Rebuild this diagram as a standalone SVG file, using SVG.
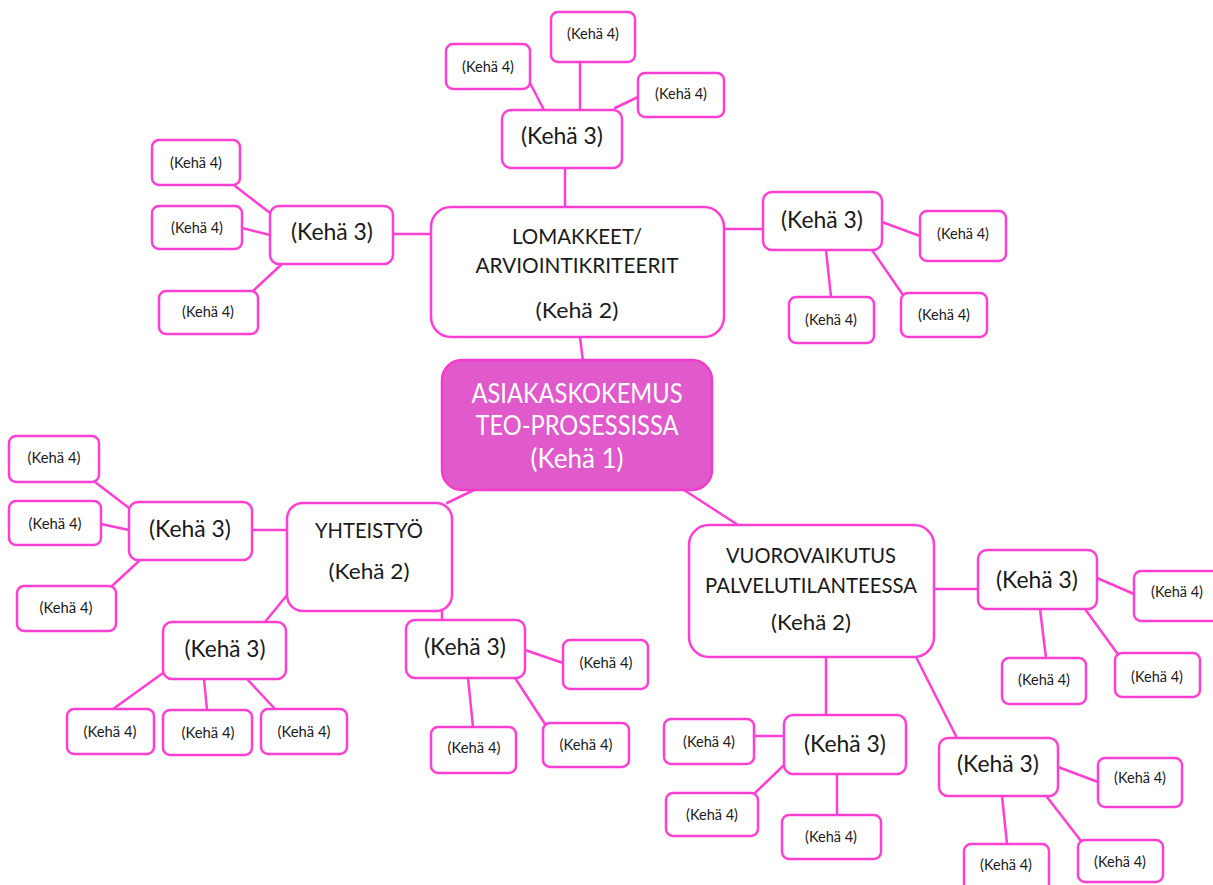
<svg xmlns="http://www.w3.org/2000/svg" width="1213" height="885" viewBox="0 0 1213 885">
  <style>
    .bx { fill: #ffffff; stroke: #ff3fd2; stroke-width: 2.5; }
    .core { fill: #e05acb; stroke: #f23cc9; stroke-width: 2.5; }
    .ln { stroke: #ff3fd2; stroke-width: 2.5; fill: none; stroke-linecap: round; }
    text { font-family: Lato, "Open Sans", "Liberation Sans", sans-serif; fill: #1a1a1a; text-anchor: middle; }
    .t1 { font-size: 27px; fill: #ffffff; }
    .t2 { font-size: 22px; }
    .t3 { font-size: 24px; }
    .t4 { font-size: 15.5px; }
  </style>
  <rect width="1213" height="885" fill="#ffffff"/>

  <!-- connectors -->
  <g id="connectors">
    <!-- core to level 2 -->
    <line class="ln" x1="580" y1="337" x2="584" y2="370"/>
    <line class="ln" x1="474" y1="490" x2="447" y2="503"/>
    <line class="ln" x1="684" y1="490" x2="738" y2="525"/>
    <!-- LOMAKKEET branch -->
    <line class="ln" x1="565" y1="168" x2="565" y2="207"/>
    <line class="ln" x1="530" y1="83" x2="544" y2="110"/>
    <line class="ln" x1="580" y1="62" x2="580" y2="110"/>
    <line class="ln" x1="615" y1="108" x2="638" y2="97"/>
    <line class="ln" x1="393" y1="234" x2="431" y2="234"/>
    <line class="ln" x1="235" y1="186" x2="270" y2="213"/>
    <line class="ln" x1="242" y1="228" x2="270" y2="235"/>
    <line class="ln" x1="282" y1="264" x2="253" y2="291"/>
    <line class="ln" x1="724" y1="229" x2="763" y2="229"/>
    <line class="ln" x1="882" y1="222" x2="920" y2="236"/>
    <line class="ln" x1="826" y1="250" x2="831" y2="297"/>
    <line class="ln" x1="872" y1="250" x2="903" y2="295"/>
    <!-- YHTEISTYÖ branch -->
    <line class="ln" x1="252" y1="530" x2="287" y2="530"/>
    <line class="ln" x1="95" y1="482" x2="129" y2="508"/>
    <line class="ln" x1="101" y1="524" x2="129" y2="530"/>
    <line class="ln" x1="139" y1="561" x2="112" y2="586"/>
    <line class="ln" x1="265" y1="622" x2="287" y2="595"/>
    <line class="ln" x1="163" y1="673" x2="113" y2="709"/>
    <line class="ln" x1="204" y1="679" x2="207" y2="710"/>
    <line class="ln" x1="247" y1="679" x2="275" y2="709"/>
    <line class="ln" x1="442" y1="611" x2="442" y2="620"/>
    <line class="ln" x1="525" y1="650" x2="563" y2="663"/>
    <line class="ln" x1="468" y1="678" x2="473" y2="727"/>
    <line class="ln" x1="515" y1="678" x2="545" y2="724"/>
    <!-- VUOROVAIKUTUS branch -->
    <line class="ln" x1="934" y1="589" x2="978" y2="589"/>
    <line class="ln" x1="1097" y1="578" x2="1134" y2="594"/>
    <line class="ln" x1="1040" y1="609" x2="1046" y2="658"/>
    <line class="ln" x1="1085" y1="609" x2="1117" y2="653"/>
    <line class="ln" x1="826" y1="657" x2="826" y2="715"/>
    <line class="ln" x1="754" y1="736" x2="784" y2="736"/>
    <line class="ln" x1="784" y1="765" x2="755" y2="793"/>
    <line class="ln" x1="837" y1="774" x2="837" y2="815"/>
    <line class="ln" x1="916" y1="657" x2="957" y2="738"/>
    <line class="ln" x1="1058" y1="767" x2="1098" y2="782"/>
    <line class="ln" x1="1002" y1="796" x2="1007" y2="844"/>
    <line class="ln" x1="1047" y1="797" x2="1081" y2="841"/>
  </g>

  <!-- level 1 -->
  <g id="core">
    <rect class="core" x="442" y="360" width="270" height="130" rx="20"/>
    <text class="t1" x="577" y="403" textLength="211" lengthAdjust="spacingAndGlyphs">ASIAKASKOKEMUS</text>
    <text class="t1" x="577" y="435" textLength="203" lengthAdjust="spacingAndGlyphs">TEO-PROSESSISSA</text>
    <text class="t1" x="577" y="468" textLength="93" lengthAdjust="spacingAndGlyphs">(Kehä 1)</text>
  </g>

  <!-- level 2 -->
  <g id="lomakkeet">
    <rect class="bx" x="431" y="207" width="293" height="130" rx="20"/>
    <text class="t2" x="577" y="244" textLength="130" lengthAdjust="spacingAndGlyphs">LOMAKKEET/</text>
    <text class="t2" x="577" y="273" textLength="203" lengthAdjust="spacingAndGlyphs">ARVIOINTIKRITEERIT</text>
    <text class="t2" x="577" y="318" textLength="83" lengthAdjust="spacingAndGlyphs">(Kehä 2)</text>
  </g>
  <g id="yhteistyo">
    <rect class="bx" x="287" y="503" width="165" height="108" rx="16"/>
    <text class="t2" x="369" y="538" textLength="108" lengthAdjust="spacingAndGlyphs">YHTEISTYÖ</text>
    <text class="t2" x="369" y="579" textLength="81" lengthAdjust="spacingAndGlyphs">(Kehä 2)</text>
  </g>
  <g id="vuorovaikutus">
    <rect class="bx" x="689" y="525" width="245" height="132" rx="20"/>
    <text class="t2" x="811" y="563" textLength="170" lengthAdjust="spacingAndGlyphs">VUOROVAIKUTUS</text>
    <text class="t2" x="811" y="593" textLength="212" lengthAdjust="spacingAndGlyphs">PALVELUTILANTEESSA</text>
    <text class="t2" x="811" y="630" textLength="80" lengthAdjust="spacingAndGlyphs">(Kehä 2)</text>
  </g>

  <!-- level 3 -->
  <g id="k3-top"><rect class="bx" x="502" y="110" width="120" height="58" rx="9"/><text class="t3" x="562" y="144" textLength="82" lengthAdjust="spacingAndGlyphs">(Kehä 3)</text></g>
  <g id="k3-left"><rect class="bx" x="270" y="206" width="123" height="58" rx="9"/><text class="t3" x="332" y="240" textLength="82" lengthAdjust="spacingAndGlyphs">(Kehä 3)</text></g>
  <g id="k3-right"><rect class="bx" x="763" y="192" width="119" height="58" rx="9"/><text class="t3" x="822" y="228" textLength="82" lengthAdjust="spacingAndGlyphs">(Kehä 3)</text></g>
  <g id="k3-yh-left"><rect class="bx" x="129" y="502" width="123" height="58" rx="9"/><text class="t3" x="190" y="537" textLength="82" lengthAdjust="spacingAndGlyphs">(Kehä 3)</text></g>
  <g id="k3-yh-low"><rect class="bx" x="163" y="622" width="123" height="57" rx="9"/><text class="t3" x="225" y="657" textLength="81" lengthAdjust="spacingAndGlyphs">(Kehä 3)</text></g>
  <g id="k3-yh-right"><rect class="bx" x="406" y="620" width="119" height="58" rx="9"/><text class="t3" x="465" y="655" textLength="82" lengthAdjust="spacingAndGlyphs">(Kehä 3)</text></g>
  <g id="k3-vu-right"><rect class="bx" x="978" y="550" width="119" height="59" rx="9"/><text class="t3" x="1037" y="588" textLength="82" lengthAdjust="spacingAndGlyphs">(Kehä 3)</text></g>
  <g id="k3-vu-low"><rect class="bx" x="784" y="715" width="122" height="59" rx="9"/><text class="t3" x="845" y="752" textLength="82" lengthAdjust="spacingAndGlyphs">(Kehä 3)</text></g>
  <g id="k3-vu-diag"><rect class="bx" x="939" y="738" width="119" height="58" rx="9"/><text class="t3" x="998" y="772" textLength="82" lengthAdjust="spacingAndGlyphs">(Kehä 3)</text></g>

  <!-- level 4 -->
  <g id="k4-01"><rect class="bx" x="446" y="44" width="84" height="45" rx="7"/><text class="t4" x="488" y="72" textLength="52" lengthAdjust="spacingAndGlyphs">(Kehä 4)</text></g>
  <g id="k4-02"><rect class="bx" x="551" y="12" width="84" height="50" rx="7"/><text class="t4" x="593" y="39" textLength="52" lengthAdjust="spacingAndGlyphs">(Kehä 4)</text></g>
  <g id="k4-03"><rect class="bx" x="638" y="73" width="86" height="44" rx="7"/><text class="t4" x="681" y="99" textLength="52" lengthAdjust="spacingAndGlyphs">(Kehä 4)</text></g>
  <g id="k4-04"><rect class="bx" x="152" y="140" width="88" height="45" rx="7"/><text class="t4" x="196" y="168" textLength="52" lengthAdjust="spacingAndGlyphs">(Kehä 4)</text></g>
  <g id="k4-05"><rect class="bx" x="152" y="206" width="90" height="43" rx="7"/><text class="t4" x="197" y="233" textLength="52" lengthAdjust="spacingAndGlyphs">(Kehä 4)</text></g>
  <g id="k4-06"><rect class="bx" x="159" y="291" width="99" height="43" rx="7"/><text class="t4" x="208" y="317" textLength="52" lengthAdjust="spacingAndGlyphs">(Kehä 4)</text></g>
  <g id="k4-07"><rect class="bx" x="920" y="211" width="86" height="50" rx="7"/><text class="t4" x="963" y="239" textLength="52" lengthAdjust="spacingAndGlyphs">(Kehä 4)</text></g>
  <g id="k4-08"><rect class="bx" x="789" y="297" width="85" height="46" rx="7"/><text class="t4" x="831" y="325" textLength="52" lengthAdjust="spacingAndGlyphs">(Kehä 4)</text></g>
  <g id="k4-09"><rect class="bx" x="901" y="293" width="86" height="44" rx="7"/><text class="t4" x="944" y="320" textLength="52" lengthAdjust="spacingAndGlyphs">(Kehä 4)</text></g>
  <g id="k4-10"><rect class="bx" x="9" y="436" width="90" height="46" rx="7"/><text class="t4" x="54" y="463" textLength="53" lengthAdjust="spacingAndGlyphs">(Kehä 4)</text></g>
  <g id="k4-11"><rect class="bx" x="9" y="501" width="92" height="44" rx="7"/><text class="t4" x="55" y="529" textLength="53" lengthAdjust="spacingAndGlyphs">(Kehä 4)</text></g>
  <g id="k4-12"><rect class="bx" x="17" y="586" width="99" height="45" rx="7"/><text class="t4" x="66" y="613" textLength="53" lengthAdjust="spacingAndGlyphs">(Kehä 4)</text></g>
  <g id="k4-13"><rect class="bx" x="67" y="709" width="87" height="45" rx="7"/><text class="t4" x="110" y="737" textLength="53" lengthAdjust="spacingAndGlyphs">(Kehä 4)</text></g>
  <g id="k4-14"><rect class="bx" x="163" y="710" width="89" height="45" rx="7"/><text class="t4" x="208" y="738" textLength="53" lengthAdjust="spacingAndGlyphs">(Kehä 4)</text></g>
  <g id="k4-15"><rect class="bx" x="261" y="709" width="86" height="45" rx="7"/><text class="t4" x="304" y="737" textLength="53" lengthAdjust="spacingAndGlyphs">(Kehä 4)</text></g>
  <g id="k4-16"><rect class="bx" x="563" y="640" width="85" height="49" rx="7"/><text class="t4" x="606" y="668" textLength="53" lengthAdjust="spacingAndGlyphs">(Kehä 4)</text></g>
  <g id="k4-17"><rect class="bx" x="431" y="727" width="85" height="46" rx="7"/><text class="t4" x="474" y="753" textLength="53" lengthAdjust="spacingAndGlyphs">(Kehä 4)</text></g>
  <g id="k4-18"><rect class="bx" x="543" y="723" width="86" height="44" rx="7"/><text class="t4" x="586" y="750" textLength="53" lengthAdjust="spacingAndGlyphs">(Kehä 4)</text></g>
  <g id="k4-19"><rect class="bx" x="1134" y="571" width="95" height="50" rx="7"/><text class="t4" x="1177" y="597" textLength="52" lengthAdjust="spacingAndGlyphs">(Kehä 4)</text></g>
  <g id="k4-20"><rect class="bx" x="1002" y="658" width="84" height="46" rx="7"/><text class="t4" x="1044" y="685" textLength="52" lengthAdjust="spacingAndGlyphs">(Kehä 4)</text></g>
  <g id="k4-21"><rect class="bx" x="1115" y="653" width="85" height="44" rx="7"/><text class="t4" x="1157" y="682" textLength="52" lengthAdjust="spacingAndGlyphs">(Kehä 4)</text></g>
  <g id="k4-22"><rect class="bx" x="664" y="719" width="90" height="45" rx="7"/><text class="t4" x="709" y="747" textLength="52" lengthAdjust="spacingAndGlyphs">(Kehä 4)</text></g>
  <g id="k4-23"><rect class="bx" x="666" y="793" width="92" height="43" rx="7"/><text class="t4" x="712" y="820" textLength="52" lengthAdjust="spacingAndGlyphs">(Kehä 4)</text></g>
  <g id="k4-24"><rect class="bx" x="782" y="815" width="99" height="44" rx="7"/><text class="t4" x="831" y="842" textLength="52" lengthAdjust="spacingAndGlyphs">(Kehä 4)</text></g>
  <g id="k4-25"><rect class="bx" x="1098" y="758" width="84" height="49" rx="7"/><text class="t4" x="1140" y="783" textLength="52" lengthAdjust="spacingAndGlyphs">(Kehä 4)</text></g>
  <g id="k4-26"><rect class="bx" x="964" y="844" width="85" height="50" rx="7"/><text class="t4" x="1006" y="870" textLength="52" lengthAdjust="spacingAndGlyphs">(Kehä 4)</text></g>
  <g id="k4-27"><rect class="bx" x="1078" y="840" width="85" height="42" rx="7"/><text class="t4" x="1120" y="867" textLength="52" lengthAdjust="spacingAndGlyphs">(Kehä 4)</text></g>
</svg>
